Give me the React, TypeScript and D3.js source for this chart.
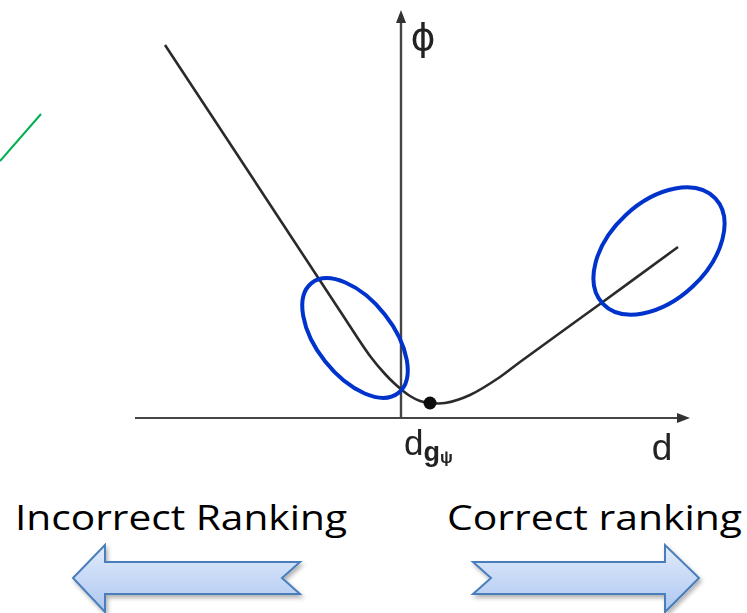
import React from "react";
import * as d3 from "d3";

// Curve phi(d) (1 unit ≈ 10 px)
const curveD = [-23.6, -15.1, -6.1, -3.1, -1.6, -0.6, 0.1, 0.9, 1.9, 2.9, 4.4, 6.9, 9.9, 11.9, 19.9, 27.7];
const curvePhi = [37.3, 24.4, 10.7, 6.2, 4.4, 3.4, 2.8, 2.2, 1.7, 1.5, 1.5, 2.3, 4.1, 5.6, 11.4, 17.1];
const minPoint = { d: 2.9, phi: 1.5 };
const xDomain = [-26.6, 28.9];
const yDomain = [0, 40.8];
const labels = { yAxis: "ϕ", xAxis: "d", origin: "d", sub1: "g", sub2: "ψ" };
const captions = ["Incorrect Ranking", "Correct ranking"];

const W = 747, H = 613;

export default function App() {
  const x = d3.scaleLinear().domain(xDomain).range([135, 690]);
  const y = d3.scaleLinear().domain(yDomain).range([418, 10]);
  const pts: [number, number][] = curveD.map((d, i) => [d, curvePhi[i]]);
  const line = d3
    .line<[number, number]>()
    .x((p) => x(p[0]))
    .y((p) => y(p[1]))
    .curve(d3.curveCatmullRom.alpha(0.5));
  const x0 = x(0), y0 = y(0);
  const xEnd = x(xDomain[1]), yEnd = y(yDomain[1]);

  const leftArrow = "M73,578 L105,545 L105,562 L300,562 L282,578 L300,594 L105,594 L105,612 Z";
  const rightArrow = "M473,562 L665,562 L665,545 L699,578 L665,612 L665,594 L473,594 L491,578 Z";

  return (
    <svg
      width={W}
      height={H}
      style={{ position: "absolute", left: 0, top: 0, background: "#fff" }}
    >
      <defs>
        <linearGradient id="ag" x1="0" y1="0" x2="0" y2="1">
          <stop offset="0" stopColor="#e1ebfc" />
          <stop offset="1" stopColor="#adc7f0" />
        </linearGradient>
        <filter id="sh" x="-10%" y="-30%" width="130%" height="170%">
          <feDropShadow dx="2" dy="3" stdDeviation="2" floodColor="#000" floodOpacity="0.3" />
        </filter>
        <filter id="bl">
          <feGaussianBlur stdDeviation="0.5" />
        </filter>
      </defs>
      <rect width={W} height={H} fill="#fff" />

      {/* green stray line */}
      <line x1={0} y1={161} x2={41} y2={114} stroke="#00b050" strokeWidth={2} />

      <g filter="url(#bl)">
        {/* axes */}
        <line x1={x(xDomain[0])} y1={y0} x2={xEnd - 6} y2={y0} stroke="#444" strokeWidth={2.2} />
        <path d={`M${xEnd},${y0} L${xEnd - 13},${y0 - 5} L${xEnd - 13},${y0 + 5} Z`} fill="#333" />
        <line x1={x0} y1={y0} x2={x0} y2={yEnd + 6} stroke="#444" strokeWidth={2.4} />
        <path d={`M${x0},${yEnd} L${x0 - 5},${yEnd + 13} L${x0 + 5},${yEnd + 13} Z`} fill="#333" />

        {/* curve */}
        <path d={line(pts) || ""} fill="none" stroke="#2b2b2b" strokeWidth={2.6} />
        <circle cx={x(minPoint.d)} cy={y(minPoint.phi)} r={6.5} fill="#111" />

        {/* labels */}
        <text x={423} y={50} fontFamily="DejaVu Sans, sans-serif" fontSize={38} textAnchor="middle" fill="#222">
          {labels.yAxis}
        </text>
        <text x={662} y={460} fontFamily="Liberation Sans, Arial, sans-serif" fontSize={37} textAnchor="middle" fill="#222">
          {labels.xAxis}
        </text>
        <text x={404} y={455} fontFamily="Liberation Sans, Arial, sans-serif" fill="#222">
          <tspan fontSize={35}>{labels.origin}</tspan>
          <tspan fontSize={27} fontWeight="bold" dy={6}>{labels.sub1}</tspan>
          <tspan fontSize={17} fontWeight="bold" dy={2}>{labels.sub2}</tspan>
        </text>
      </g>

      {/* highlight ellipses */}
      <ellipse cx={355} cy={338} rx={70} ry={38} transform="rotate(51.6 355 338)" fill="none" stroke="#0033cc" strokeWidth={4} />
      <ellipse cx={659} cy={251} rx={77} ry={49} transform="rotate(-43 659 251)" fill="none" stroke="#0033cc" strokeWidth={4} />

      {/* captions */}
      <text x={15} y={530} fontFamily="Open Sans, sans-serif" fontSize={35} textLength={332} lengthAdjust="spacingAndGlyphs" fill="#000">
        {captions[0]}
      </text>
      <text x={447} y={530} fontFamily="Open Sans, sans-serif" fontSize={35} textLength={295} lengthAdjust="spacingAndGlyphs" fill="#000">
        {captions[1]}
      </text>

      {/* arrows */}
      <path d={leftArrow} fill="url(#ag)" stroke="#4a7ebb" strokeWidth={2} strokeLinejoin="miter" filter="url(#sh)" />
      <path d={rightArrow} fill="url(#ag)" stroke="#4a7ebb" strokeWidth={2} strokeLinejoin="miter" filter="url(#sh)" />
    </svg>
  );
}
